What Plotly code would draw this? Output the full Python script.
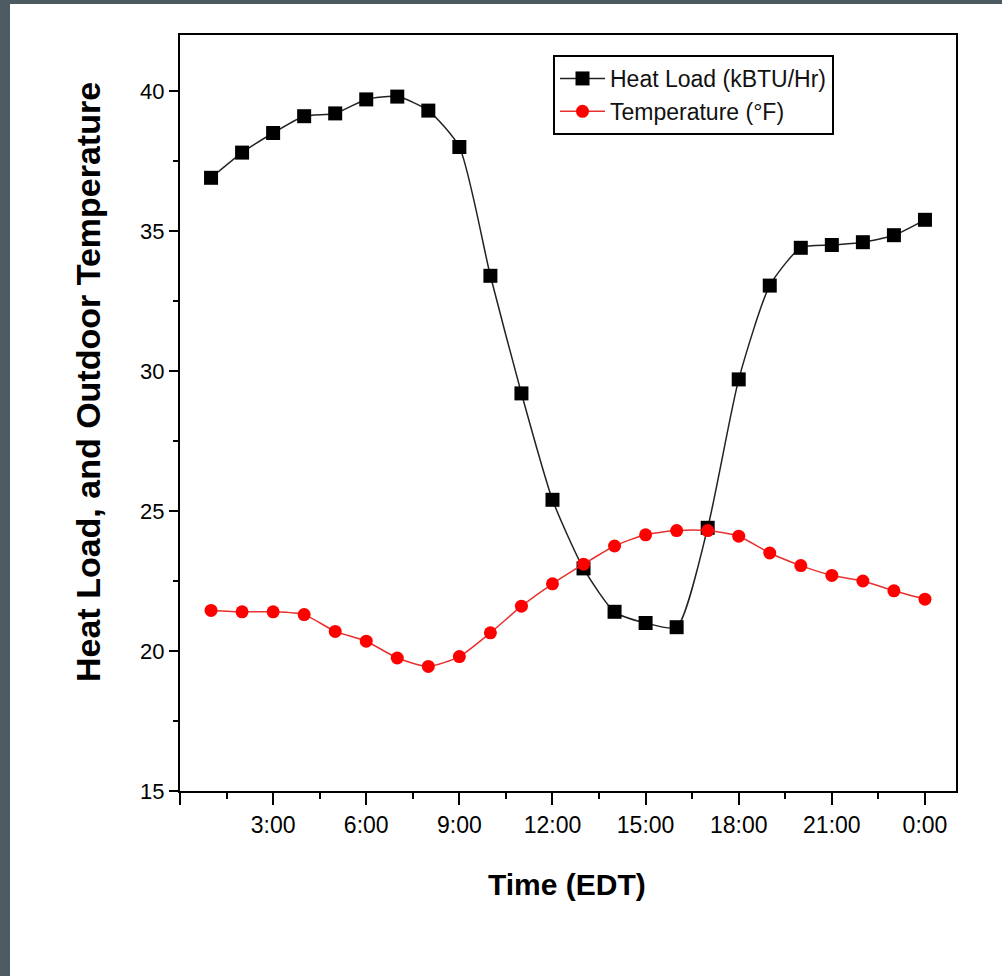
import plotly.graph_objects as go

hours = list(range(1, 25))
heat_load = [36.9, 37.8, 38.5, 39.1, 39.2, 39.7, 39.8, 39.3, 38.0, 33.4, 29.2, 25.4,
             22.95, 21.4, 21.0, 20.85, 24.4, 29.7, 33.05, 34.4, 34.5, 34.6, 34.85, 35.4]
temperature = [21.45, 21.4, 21.4, 21.3, 20.7, 20.35, 19.75, 19.45, 19.8, 20.65, 21.6, 22.4,
               23.1, 23.75, 24.15, 24.3, 24.3, 24.1, 23.5, 23.05, 22.7, 22.5, 22.15, 21.85]

x_tickvals = [0, 3, 6, 9, 12, 15, 18, 21, 24]
x_ticktext = ["", "3:00", "6:00", "9:00", "12:00", "15:00", "18:00", "21:00", "0:00"]
y_tickvals = [15, 20, 25, 30, 35, 40]

FONT = "Liberation Sans, Arial, sans-serif"

fig = go.Figure()
fig.add_trace(go.Scatter(
    x=hours, y=heat_load, name="Heat Load (kBTU/Hr)",
    mode="lines+markers", line=dict(color="#222222", width=1.5, shape="spline", smoothing=0.6),
    marker=dict(symbol="square", size=14, color="black"),
))
fig.add_trace(go.Scatter(
    x=hours, y=temperature, name="Temperature (\u00b0F)",
    mode="lines+markers", line=dict(color="#e83030", width=1.5, shape="spline", smoothing=0.6),
    marker=dict(symbol="circle", size=13, color="#ff0000"),
))

L, R, T, B = 180, 46, 35, 185
W, H = 1002, 976
pw = W - L - R
ph = H - T - B

def px(x):
    return (x - L) / pw

def py(y):
    return (H - B - y) / ph

fig.update_layout(
    width=W, height=H,
    margin=dict(l=L, r=R, t=T, b=B),
    paper_bgcolor="white", plot_bgcolor="white",
    font=dict(family=FONT, color="black"),
    showlegend=True,
    legend=dict(
        x=px(553), y=py(55), xanchor="left", yanchor="top",
        bordercolor="black", borderwidth=2, bgcolor="white",
        font=dict(size=23, family=FONT, color="#111111"),
        tracegroupgap=0, itemwidth=45,
    ),
    shapes=[
        dict(type="rect", xref="paper", yref="paper", x0=px(0), x1=px(10), y0=py(976), y1=py(0),
             fillcolor="#4e5a62", line=dict(width=0), layer="below"),
        dict(type="rect", xref="paper", yref="paper", x0=px(0), x1=px(1002), y0=py(4), y1=py(0),
             fillcolor="#4e5a62", line=dict(width=0), layer="below"),
    ],
    annotations=[
        dict(text="<b>Heat Load, and Outdoor Temperature</b>", xref="paper", yref="paper",
             x=px(88), y=py(382), xanchor="center", yanchor="middle", textangle=-90,
             showarrow=False, font=dict(size=34, family=FONT, color="black")),
        dict(text="<b>Time (EDT)</b>", xref="paper", yref="paper",
             x=px(567), y=py(884), xanchor="center", yanchor="middle",
             showarrow=False, font=dict(size=30, family=FONT, color="black")),
    ],
)

fig.update_xaxes(
    range=[0, 25], tickmode="array", tickvals=x_tickvals, ticktext=x_ticktext,
    ticks="outside", ticklen=12, tickwidth=2, tickcolor="black",
    showline=True, linecolor="black", linewidth=2, mirror=True,
    showgrid=False, zeroline=False,
    tickfont=dict(size=23, family=FONT, color="black"),
    minor=dict(ticks="outside", ticklen=6, tickwidth=2, tickcolor="black", tick0=0, dtick=1.5, showgrid=False),
)
fig.update_yaxes(
    range=[15, 42], tickmode="array", tickvals=y_tickvals,
    ticks="outside", ticklen=9, tickwidth=2, tickcolor="black",
    showline=True, linecolor="black", linewidth=2, mirror=True,
    showgrid=False, zeroline=False,
    tickfont=dict(size=22, family=FONT, color="black"),
    minor=dict(ticks="outside", ticklen=5, tickwidth=2, tickcolor="black", tick0=15, dtick=2.5, showgrid=False),
)

fig.write_html("out.html")
